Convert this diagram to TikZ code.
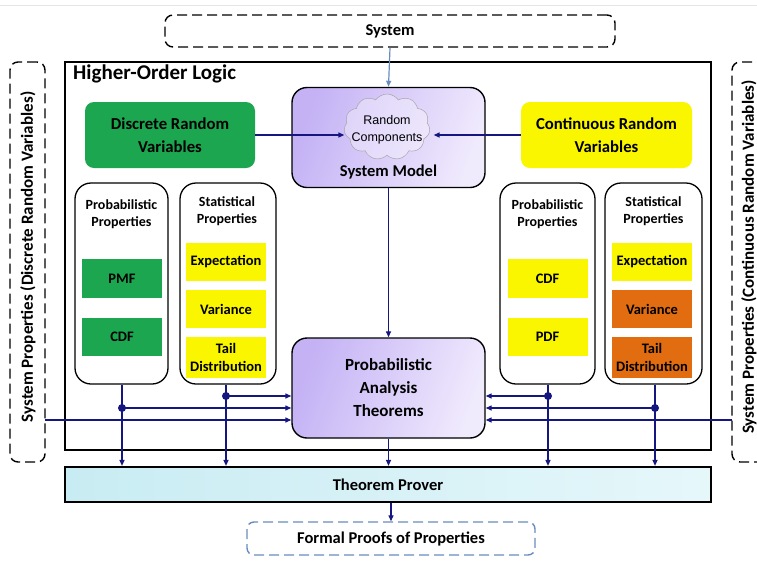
\documentclass[tikz,border=0pt]{standalone}
\usepackage{fontspec}
\setmainfont{Carlito}
\newfontfamily\arialf{Liberation Sans}
\usetikzlibrary{arrows.meta,shapes.symbols}
\definecolor{cgreen}{RGB}{28,166,80}
\definecolor{cyellow}{RGB}{250,246,0}
\definecolor{corange}{RGB}{226,108,16}
\definecolor{cpurpleL}{RGB}{196,178,245}
\definecolor{cpurpleR}{RGB}{240,234,253}
\definecolor{ccyanL}{RGB}{200,236,243}
\definecolor{ccyanR}{RGB}{230,247,250}
\definecolor{cnavy}{RGB}{22,22,128}
\definecolor{csteel}{RGB}{105,140,190}
\tikzset{
  x=1pt,y=-1pt,
  every node/.style={font=\bfseries, align=center, inner sep=0pt},
  rvbox/.style={rounded corners=9pt, minimum height=66pt, font=\bfseries\fontsize{16.7}{23}\selectfont},
  modelbox/.style={draw=black, line width=1.4pt, rounded corners=15pt, shading=axis, left color=cpurpleL, right color=cpurpleR, shading angle=70, minimum width=193pt, minimum height=100pt},
  propbox/.style={draw=black, line width=1.3pt, rounded corners=16pt, minimum height=201pt},
  proptitle/.style={font=\bfseries\fontsize{14}{16.5}\selectfont},
  item/.style={minimum width=80pt, font=\bfseries\fontsize{14.5}{16}\selectfont},
  sysdash/.style={draw=black, line width=1.4pt, dash pattern=on 10pt off 5pt, rounded corners=8pt},
  conn/.style={draw=cnavy, line width=1.3pt, -{Triangle[length=6pt,width=5pt]}},
  junction/.style={circle, fill=cnavy, minimum size=8pt}
}
\begin{document}
\begin{tikzpicture}
\useasboundingbox (0,0) rectangle (757,560);
\fill[white] (0,0) rectangle (757,560);
\draw[black!10, line width=0.6pt] (0,5) -- (757,5);

% outer boxes
\node[sysdash, minimum width=450pt, minimum height=32pt, font=\bfseries\fontsize{16.5}{18}\selectfont] (sys) at (390,31) {System};
\draw[black, line width=2.6pt] (65,62) rectangle (711,450);
\node[anchor=north west, font=\bfseries\fontsize{21}{24}\selectfont] (hol) at (73,65) {Higher-Order Logic};

\node[sysdash, minimum width=35pt, minimum height=400pt] (lsp) at (27.5,262) {};
\node[rotate=90, font=\bfseries\fontsize{17}{19}\selectfont] (lspt) at (28,257) {System Properties (Discrete Random Variables)};
\node[sysdash, minimum width=43pt, minimum height=400pt] (rsp) at (753.5,262) {};
\node[rotate=90, font=\bfseries\fontsize{17}{19}\selectfont] (rspt) at (749,257) {System Properties (Continuous Random Variables)};

% random variable boxes
\node[rvbox, fill=cgreen, minimum width=170pt] (drv) at (170,135) {Discrete Random\\Variables};
\node[rvbox, fill=cyellow, minimum width=171pt] (crv) at (606.5,135) {Continuous Random\\Variables};

% system model
\node[modelbox] (sm) at (388.5,137.5) {};
\node[cloud, cloud puffs=11, cloud puff arc=110, aspect=1.25, draw=black!35, fill=white, fill opacity=0.35, line width=0.5pt, minimum width=86pt, minimum height=66pt] (cloud) at (387,127) {};
\node[font=\arialf\fontsize{12.5}{17}\selectfont] (rc) at (387,130) {Random\\Components};
\node[font=\bfseries\fontsize{16.5}{18}\selectfont] (smt) at (388.5,172) {System Model};

% PAT
\node[modelbox, font=\bfseries\fontsize{17}{23}\selectfont] (pat) at (388.5,388) {Probabilistic\\Analysis\\Theorems};

% property boxes left
\node[propbox, minimum width=93pt] (lpp) at (121.5,283.5) {};
\node[proptitle] (lppt) at (121.5,214) {Probabilistic\\Properties};
\node[item, fill=cgreen, minimum height=39pt] (pmf) at (122,278.5) {PMF};
\node[item, fill=cgreen, minimum height=38pt] (lcdf) at (122,337) {CDF};

\node[propbox, minimum width=96pt] (lsp2) at (228,283.5) {};
\node[proptitle] (lspt2) at (227,211) {Statistical\\Properties};
\node[item, fill=cyellow, minimum height=38pt] (lexp) at (226,262) {Expectation};
\node[item, fill=cyellow, minimum height=38pt] (lvar) at (226,309) {Variance};
\node[item, fill=cyellow, minimum height=41pt, font=\bfseries\fontsize{14.5}{18}\selectfont] (ltail) at (226,357.5) {Tail\\Distribution};

% property boxes right
\node[propbox, minimum width=95pt] (rpp) at (547.5,283.5) {};
\node[proptitle] (rppt) at (547.5,214) {Probabilistic\\Properties};
\node[item, fill=cyellow, minimum height=39pt] (rcdf) at (547.5,278.5) {CDF};
\node[item, fill=cyellow, minimum height=38pt] (rpdf) at (547.5,337) {PDF};

\node[propbox, minimum width=97pt] (rsp2) at (653.5,283.5) {};
\node[proptitle] (rspt2) at (653.5,211) {Statistical\\Properties};
\node[item, fill=cyellow, minimum height=38pt] (rexp) at (652,262) {Expectation};
\node[item, fill=corange, minimum height=38pt] (rvar) at (652,309) {Variance};
\node[item, fill=corange, minimum height=41pt, font=\bfseries\fontsize{14.5}{18}\selectfont] (rtail) at (652,357.5) {Tail\\Distribution};

% theorem prover
\node[draw=black, line width=2.2pt, left color=ccyanL, right color=ccyanR, minimum width=646pt, minimum height=35pt, font=\bfseries\fontsize{16.5}{18}\selectfont] (tp) at (388,484.5) {Theorem Prover};

% formal proofs
\node[draw=csteel, line width=1.4pt, dash pattern=on 10pt off 5pt, rounded corners=7pt, minimum width=288pt, minimum height=33pt, font=\bfseries\fontsize{16.5}{18}\selectfont] (fp) at (391,538.5) {Formal Proofs of Properties};

% connectors
\draw[draw=csteel, line width=1.2pt, -{Triangle[length=6pt,width=5pt]}] (sys.south) -- (sm.north);
\draw[conn] (drv.east) -- (cloud.west |- drv.east);
\draw[conn] (crv.west) -- ([xshift=4pt]cloud.east |- crv.west);
\draw[conn] (sm.south) -- (pat.north);
\draw[conn] (pat.south) -- (tp.north -| pat.south);
\draw[conn] (tp.south -| fp.north) -- (fp.north);

% junctions left
\coordinate (jl1) at (122,408);
\coordinate (jl2) at (226,396);
\node[junction] (jl1n) at (jl1) {};
\node[junction] (jl2n) at (jl2) {};
\draw[conn] (lpp.south -| jl1) -- (tp.north -| jl1);
\draw[conn] (lsp2.south -| jl2) -- (tp.north -| jl2);
\draw[conn] (jl1) -- (pat.west |- jl1);
\draw[conn] (jl2) -- (pat.west |- jl2);
\coordinate (lin) at (45,420);
\draw[conn] (lin) -- (pat.west |- lin);

% junctions right
\coordinate (jr1) at (548,396);
\coordinate (jr2) at (655,408);
\node[junction] (jr1n) at (jr1) {};
\node[junction] (jr2n) at (jr2) {};
\draw[conn] (rpp.south -| jr1) -- (tp.north -| jr1);
\draw[conn] (rsp2.south -| jr2) -- (tp.north -| jr2);
\draw[conn] (jr1) -- (pat.east |- jr1);
\draw[conn] (jr2) -- (pat.east |- jr2);
\coordinate (rin) at (732,420);
\draw[conn] (rin) -- (pat.east |- rin);
\end{tikzpicture}
\end{document}
